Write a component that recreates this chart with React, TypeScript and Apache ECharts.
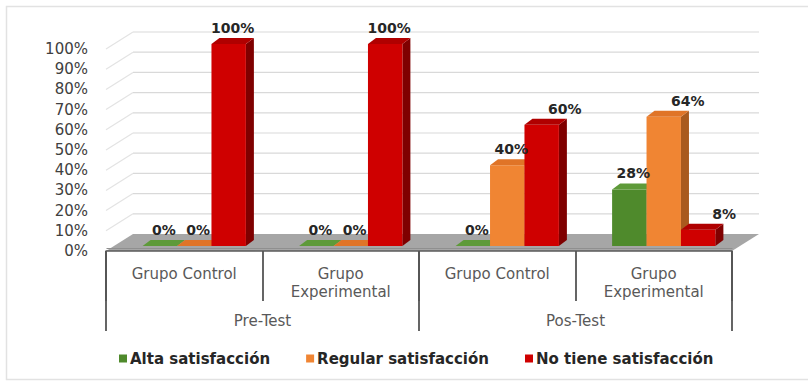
import React, { useEffect, useRef } from 'react';
import * as echarts from 'echarts';

// Category rows of the two-level x axis
const groups = ['Grupo Control', 'Grupo\nExperimental', 'Grupo Control', 'Grupo\nExperimental'];
const phases = ['Pre-Test', 'Pos-Test'];

// Percentages per group
const altaSatisfaccion = [0, 0, 0, 28];
const regularSatisfaccion = [0, 0, 40, 64];
const noTieneSatisfaccion = [100, 100, 60, 8];

// Value axis ticks (percent)
const percentTicks = [0, 10, 20, 30, 40, 50, 60, 70, 80, 90, 100];

const seriesNames = ['Alta satisfacción', 'Regular satisfacción', 'No tiene satisfacción'];

// Shading for the pseudo-3D columns: front, side, top
const shades = [
  { front: '#4f8a2c', side: '#35601c', top: '#5e9a39' },
  { front: '#f08533', side: '#a95a1e', top: '#e07427' },
  { front: '#cf0000', side: '#7f0000', top: '#b00000' },
];

// Scene geometry (pixels)
const DEPTH_X = 27; // back wall offset
const DEPTH_Y = -17;
const BAR_SHIFT_X = 10; // where the columns stand inside the floor
const BAR_SHIFT_Y = -5;
const BAR_DX = 8; // column thickness
const BAR_DY = -6;
const BAR_FRAC = 0.22;

// Some value labels are nudged right so they stay clear of neighbours
const labelNudge: Record<string, number> = { '2-2': 19, '1-3': 20, '2-3': 22 };

const FONT = '"DejaVu Sans", "Noto Sans", sans-serif';

function barRenderer(slot: number) {
  const c = shades[slot];
  return (params: any, api: any) => {
    const ci = api.value(0);
    const v = api.value(1);
    const base = api.coord([ci, 0]);
    const top = api.coord([ci, v]);
    const band = api.size([1, 0])[0];
    const w = band * BAR_FRAC;
    const x0 = base[0] - 1.5 * w + slot * w + BAR_SHIFT_X;
    const yb = base[1] + BAR_SHIFT_Y;
    const yt = top[1] + BAR_SHIFT_Y;
    const x1 = x0 + w;
    const nudge = labelNudge[slot + '-' + ci] || 0;
    return {
      type: 'group',
      children: [
        {
          type: 'polygon',
          shape: { points: [[x1, yt], [x1 + BAR_DX, yt + BAR_DY], [x1 + BAR_DX, yb + BAR_DY], [x1, yb]] },
          style: { fill: c.side },
        },
        {
          type: 'rect',
          shape: { x: x0, y: yt, width: w, height: Math.max(0, yb - yt) },
          style: { fill: c.front },
        },
        {
          type: 'polygon',
          shape: { points: [[x0, yt], [x0 + BAR_DX, yt + BAR_DY], [x1 + BAR_DX, yt + BAR_DY], [x1, yt]] },
          style: { fill: c.top },
        },
        {
          type: 'text',
          z2: 100,
          x: x0 + w / 2 + BAR_DX / 2 + nudge,
          y: yt + BAR_DY - 3,
          style: {
            text: v + '%',
            fill: '#262626',
            fontSize: 14,
            fontWeight: 'bold',
            fontFamily: FONT,
            align: 'center',
            verticalAlign: 'bottom',
          },
        },
      ],
    };
  };
}

function wallRenderer(params: any, api: any) {
  const v = api.value(1);
  const cs = params.coordSys;
  const y = api.coord([0, v])[1];
  const left = cs.x;
  const right = cs.x + cs.width;
  if (v === 0) {
    return {
      type: 'group',
      children: [
        {
          type: 'polygon',
          shape: { points: [[left, y], [right, y], [right + DEPTH_X, y + DEPTH_Y], [left + DEPTH_X, y + DEPTH_Y]] },
          style: { fill: '#a6a6a6' },
        },
        {
          type: 'polygon',
          shape: { points: [[left, y - 2], [right, y - 2], [right + 1, y - 3], [left + 1, y - 3]] },
          style: { fill: '#8f8f8f' },
        },
      ],
    };
  }
  return {
    type: 'group',
    children: [
      {
        type: 'line',
        shape: { x1: left + DEPTH_X, y1: y + DEPTH_Y, x2: right + DEPTH_X, y2: y + DEPTH_Y },
        style: { stroke: '#d9d9d9', lineWidth: 1.2 },
      },
      {
        type: 'line',
        shape: { x1: left, y1: y, x2: left + DEPTH_X, y2: y + DEPTH_Y },
        style: { stroke: '#e3e3e3', lineWidth: 1.2 },
      },
    ],
  };
}

export default function App() {
  const ref = useRef<HTMLDivElement>(null);

  useEffect(() => {
    document.body.style.margin = '0';
    if (!ref.current) return;
    const chart = echarts.init(ref.current, undefined, { renderer: 'svg' });
    const values = [altaSatisfaccion, regularSatisfaccion, noTieneSatisfaccion];

    chart.setOption({
      animation: false,
      backgroundColor: '#ffffff',
      graphic: [
        {
          type: 'rect',
          shape: { x: 6.5, y: 6.5, width: 820, height: 373 },
          style: { fill: 'none', stroke: '#e2e2e2', lineWidth: 1.5 },
          silent: true,
        },
      ],
      grid: { left: 106, right: 76, top: 49, bottom: 131 },
      legend: {
        data: seriesNames,
        left: 114,
        top: 346,
        icon: 'rect',
        itemWidth: 8,
        itemHeight: 8,
        itemGap: 36,
        textStyle: { color: '#262626', fontSize: 15, fontWeight: 'bold', fontFamily: FONT, padding: [0, 0, 0, -2] },
      },
      xAxis: [
        {
          type: 'category',
          data: groups,
          position: 'bottom',
          z: 5,
          axisLine: { show: true, lineStyle: { color: '#5a5a5a', width: 1.5 } },
          axisTick: { show: true, length: 50, alignWithLabel: false, interval: 0, lineStyle: { color: '#555555', width: 1.8 } },
          axisLabel: {
            interval: 0,
            margin: 14,
            color: '#595959',
            fontSize: 15,
            lineHeight: 18,
            fontFamily: FONT,
          },
        },
        {
          type: 'category',
          data: phases,
          position: 'bottom',
          z: 5,
          axisLine: { show: false },
          axisTick: { show: true, length: 80, alignWithLabel: false, interval: 0, lineStyle: { color: '#555555', width: 1.8 } },
          axisLabel: {
            interval: 0,
            margin: 62,
            color: '#595959',
            fontSize: 15,
            fontFamily: FONT,
          },
        },
      ],
      yAxis: {
        type: 'value',
        min: 0,
        max: 100,
        interval: 10,
        z: 5,
        axisLine: { show: false },
        axisTick: { show: false },
        splitLine: { show: false },
        axisLabel: {
          formatter: '{value}%',
          margin: 18,
          color: '#404040',
          fontSize: 15,
          fontFamily: FONT,
        },
      },
      series: [
        {
          type: 'custom',
          name: 'walls',
          z: 1,
          silent: true,
          clip: false,
          encode: { x: 0, y: 1 },
          renderItem: wallRenderer,
          data: percentTicks.map((t) => [0, t]),
        },
        ...seriesNames.map((name, s) => ({
          type: 'custom',
          name,
          z: 2,
          clip: false,
          itemStyle: { color: shades[s].front },
          encode: { x: 0, y: 1 },
          renderItem: barRenderer(s),
          data: values[s].map((v, i) => [i, v]),
        })),
      ],
    });

    return () => chart.dispose();
  }, []);

  return <div ref={ref} style={{ width: 808, height: 382 }} />;
}
